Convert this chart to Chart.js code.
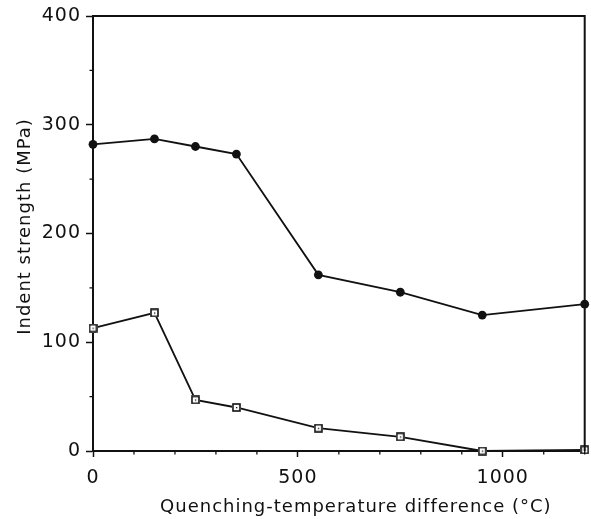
<!DOCTYPE html>
<html>
<head>
<meta charset="utf-8">
<script src="https://cdn.jsdelivr.net/npm/chart.js@4/dist/chart.umd.min.js"></script>
<style>
  html, body { margin: 0; padding: 0; background: #fff; }
  #wrap { width: 591px; height: 519px; position: relative; }
</style>
</head>
<body>
<div id="wrap"><canvas id="c"></canvas></div>
<script>
// Data
const tempDiff = [0, 150, 250, 350, 550, 750, 950, 1200];
const strengthA = [282, 287, 280, 273, 162, 146, 125, 135];   // filled circles
const strengthB = [113, 127, 47, 40, 21, 13, 0, 1];          // open squares
const xLabels = [0, 500, 1000];
const yLabels = [0, 100, 200, 300, 400];

function squareMarker() {
  const s = 9;
  const c = document.createElement('canvas');
  c.width = s; c.height = s;
  const g = c.getContext('2d');
  g.fillStyle = '#fff';
  g.fillRect(0, 0, s, s);
  g.strokeStyle = '#111';
  g.lineWidth = 1.6;
  g.strokeRect(1, 1, s - 2, s - 2);
  g.fillStyle = '#111';
  g.fillRect(4, 4, 1.3, 1.3);
  return c;
}

// shift an axis title drawn by Chart.js by (dx, dy)
function shiftTitle(s, dx, dy) {
  if (s.__shifted) return;
  const orig = s.drawTitle;
  s.drawTitle = function () {
    this.ctx.save();
    this.ctx.translate(dx, dy);
    orig.call(this);
    this.ctx.restore();
  };
  s.__shifted = true;
}

const spacing = {
  id: 'spacing',
  beforeDraw(chart) {
    chart.ctx.letterSpacing = '1px';
  }
};

const frame = {
  id: 'frame',
  afterDraw(chart) {
    const { ctx, chartArea: a, scales } = chart;
    ctx.save();
    ctx.strokeStyle = '#111';
    ctx.lineWidth = 2;
    ctx.beginPath();
    ctx.moveTo(a.left, a.top);
    ctx.lineTo(a.right, a.top);
    ctx.lineTo(a.right, a.bottom);
    ctx.stroke();
    // minor ticks
    ctx.lineWidth = 1.3;
    ctx.beginPath();
    scales.x.ticks.forEach(t => {
      if (!xLabels.includes(t.value)) {
        const px = scales.x.getPixelForValue(t.value);
        ctx.moveTo(px, a.bottom);
        ctx.lineTo(px, a.bottom + 3.5);
      }
    });
    scales.y.ticks.forEach(t => {
      if (!yLabels.includes(t.value)) {
        const py = scales.y.getPixelForValue(t.value);
        ctx.moveTo(a.left, py);
        ctx.lineTo(a.left - 3.5, py);
      }
    });
    ctx.stroke();
    ctx.restore();
  }
};

const FONT = "'DejaVu Sans', sans-serif";

new Chart(document.getElementById('c'), {
  type: 'line',
  data: {
    datasets: [
      {
        data: tempDiff.map((x, i) => ({ x, y: strengthA[i] })),
        borderColor: '#111',
        borderWidth: 1.8,
        pointStyle: 'circle',
        pointRadius: 4.4,
        pointBackgroundColor: '#111',
        pointBorderColor: '#111',
        pointBorderWidth: 0,
        tension: 0,
        clip: false
      },
      {
        data: tempDiff.map((x, i) => ({ x, y: strengthB[i] })),
        borderColor: '#111',
        borderWidth: 1.8,
        pointStyle: squareMarker(),
        pointRadius: 4.5,
        tension: 0,
        clip: false
      }
    ]
  },
  options: {
    responsive: true,
    maintainAspectRatio: false,
    animation: false,
    events: [],
    layout: { padding: { top: 16, right: 3, left: 0, bottom: 0 } },
    plugins: { legend: { display: false }, tooltip: { enabled: false } },
    scales: {
      x: {
        type: 'linear',
        min: 0, max: 1200,
        afterFit(s) { s.height = 68; s.paddingLeft = 0; s.paddingRight = 0; shiftTitle(s, 17, 0); },
        ticks: {
          stepSize: 100,
          autoSkip: false,
          maxRotation: 0,
          padding: 10,
          color: '#111',
          font: { family: FONT, size: 19 },
          callback: v => xLabels.includes(v) ? String(v) : ''
        },
        grid: {
          drawOnChartArea: false,
          drawTicks: true,
          tickLength: 6,
          tickWidth: 1.5,
          tickColor: c => xLabels.includes(c.tick && c.tick.value) ? '#111' : 'rgba(0,0,0,0)'
        },
        border: { display: true, color: '#111', width: 2 },
        title: {
          display: true,
          text: 'Quenching-temperature difference (°C)',
          color: '#111',
          font: { family: FONT, size: 18 },
          padding: { top: 0, bottom: 0.5 }
        }
      },
      y: {
        type: 'linear',
        min: 0, max: 400,
        afterFit(s) { s.width = 93; s.paddingTop = 0; s.paddingBottom = 0; shiftTitle(s, 0, -7); },
        ticks: {
          stepSize: 50,
          autoSkip: false,
          padding: 5,
          color: '#111',
          font: { family: FONT, size: 19 },
          callback: v => yLabels.includes(v) ? String(v) : ''
        },
        grid: {
          drawOnChartArea: false,
          drawTicks: true,
          tickLength: 7,
          tickWidth: 1.5,
          tickColor: c => yLabels.includes(c.tick && c.tick.value) ? '#111' : 'rgba(0,0,0,0)'
        },
        border: { display: true, color: '#111', width: 2 },
        title: {
          display: true,
          text: 'Indent strength (MPa)',
          color: '#111',
          font: { family: FONT, size: 18 },
          padding: { top: 14.5, bottom: 0 }
        }
      }
    }
  },
  plugins: [spacing, frame]
});
</script>
</body>
</html>
